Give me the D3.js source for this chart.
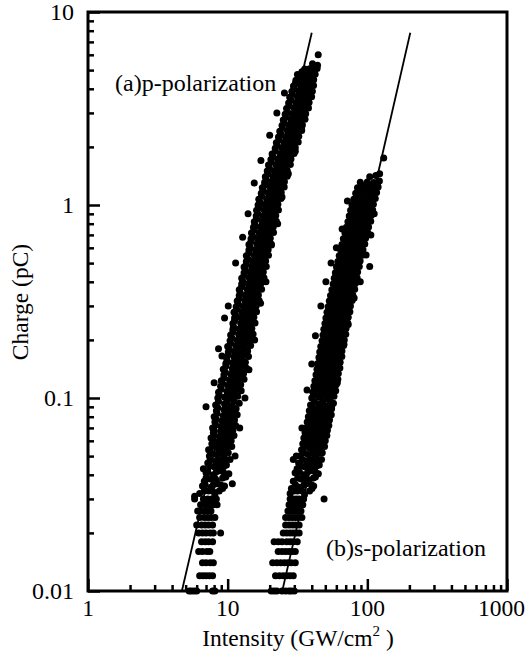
<!DOCTYPE html>
<html><head><meta charset="utf-8">
<script src="https://cdn.jsdelivr.net/npm/d3@7"></script>
<style>
html,body{margin:0;padding:0;background:#fff;}
svg text{font-family:"Liberation Serif","Times New Roman",serif;fill:#000;}
</style></head>
<body>
<svg id="chart" width="527" height="660"></svg>
<script>
// ---------------- data ----------------
const xMajorTicks = [1, 10, 100, 1000];
const xMajorLabels = ["1", "10", "100", "1000"];
const xMinorTicks = [2,3,4,5,6,7,8,9,20,30,40,50,60,70,80,90,200,300,400,500,600,700,800,900];
const yMajorTicks = [0.01, 0.1, 1, 10];
const yMajorLabels = ["0.01", "0.1", "1", "10"];
const yMinorTicks = [0.02,0.03,0.04,0.05,0.06,0.07,0.08,0.09,0.2,0.3,0.4,0.5,0.6,0.7,0.8,0.9,2,3,4,5,6,7,8,9];

// fitted power-law lines (endpoints)
const fitP = [[4.7, 0.01], [40, 7.8]];
const fitS = [[24.6, 0.01], [203, 7.8]];

// (a) p-polarization: [intensity, charge]
const pPol = [
[5.3,0.01],[5.5,0.01],[5.75,0.01],[6.0,0.01],[7.8,0.01],[8.1,0.01],
[6.3,0.012],[6.65,0.012],[7.0,0.012],[7.4,0.012],[7.8,0.012],
[6.6,0.014],[7.0,0.014],[7.5,0.014],[7.9,0.014],
[6.2,0.016],[6.6,0.016],[7.1,0.016],[7.45,0.016],
[6.5,0.018],[6.9,0.018],[7.3,0.018],[7.8,0.018],
[6.2,0.02],[6.6,0.02],[7.0,0.02],[7.5,0.02],[7.9,0.02],[8.9,0.02],
[6.0,0.022],[6.5,0.022],[6.9,0.022],[7.3,0.022],[7.8,0.022],
[6.3,0.024],[6.8,0.024],[7.2,0.024],[7.6,0.024],[8.1,0.024],
[6.1,0.026],[6.6,0.026],[7.1,0.026],[7.6,0.026],
[6.4,0.028],[6.9,0.028],[7.4,0.028],[7.9,0.028],[8.4,0.028],
[5.8,0.03],[6.7,0.03],[7.2,0.03],[7.7,0.03],[8.3,0.03],
[6.3,0.032],[7.3,0.033],[8.1,0.0315],[9.2,0.034],
[6.6,0.035],[7.6,0.0345],[8.4,0.036],[9.5,0.035],
[6.8,0.037],[7.5,0.038],[8.3,0.0375],[9.7,0.039],
[7.0,0.041],[7.9,0.040],[8.7,0.042],[10.2,0.0405],
[6.7,0.043],[8.0,0.044],[8.9,0.0435],[9.8,0.045],
[7.2,0.046],[8.2,0.047],[9.1,0.0465],[10.4,0.048],
[7.4,0.05],[8.3,0.051],[9.3,0.0495],[10.1,0.052],
[7.3,0.054],[8.5,0.055],[9.4,0.0535],[10.7,0.056],
[7.7,0.058],[8.6,0.059],[9.6,0.057],[10.6,0.06],
[7.6,0.062],[8.8,0.063],[9.7,0.0615],[11.1,0.064],
[7.9,0.066],[8.9,0.067],[9.9,0.0655],[10.9,0.068],
[7.8,0.07],[9.0,0.071],[10.0,0.0695],[11.4,0.072],
[8.1,0.075],[9.1,0.076],[10.1,0.0745],[11.2,0.077],
[8.0,0.08],[9.3,0.081],[10.3,0.079],[11.7,0.082],
[8.3,0.086],[9.4,0.087],[10.4,0.085],[11.5,0.088],
[8.2,0.092],[9.5,0.093],[10.6,0.091],[12.1,0.094],
[8.5,0.1],[9.5,0.101],[10.6,0.099],[11.8,0.102],
[8.6,0.107],[9.9,0.108],[10.9,0.106],[12.5,0.109],
[8.9,0.115],[10.0,0.116],[11.2,0.114],[12.4,0.117],
[9.0,0.123],[10.3,0.124],[11.4,0.122],[13.1,0.125],
[9.4,0.132],[10.5,0.133],[11.8,0.131],[13.0,0.134],
[9.3,0.141],[10.8,0.142],[11.9,0.14],[13.6,0.143],
[9.7,0.151],[10.8,0.152],[12.1,0.15],[13.4,0.153],
[9.8,0.162],[11.1,0.163],[12.3,0.161],[14.1,0.164],
[10.1,0.173],[11.2,0.174],[12.6,0.172],[13.9,0.175],
[10.0,0.185],[11.5,0.186],[12.7,0.184],[14.6,0.187],
[10.4,0.198],[11.7,0.199],[13.1,0.197],[14.4,0.2],
[10.5,0.212],[12.0,0.213],[13.2,0.211],[15.2,0.214],
[10.9,0.227],[12.1,0.228],[13.6,0.226],[14.9,0.229],
[10.9,0.243],[12.4,0.244],[13.7,0.242],[15.7,0.245],
[11.2,0.26],[12.4,0.261],[14.0,0.259],[15.4,0.262],
[11.1,0.278],[12.7,0.279],[14.1,0.277],[16.1,0.28],
[11.5,0.297],[12.9,0.298],[14.5,0.296],[16.0,0.3],
[11.7,0.318],[13.3,0.319],[14.7,0.317],[16.8,0.32],
[12.1,0.34],[13.4,0.341],[15.1,0.339],[16.6,0.342],
[12.1,0.364],[13.8,0.365],[15.3,0.363],[17.5,0.366],
[12.6,0.39],[14.0,0.391],[15.7,0.389],[17.3,0.392],
[12.6,0.417],[14.3,0.418],[15.9,0.416],[18.2,0.42],
[13.1,0.446],[14.5,0.447],[16.3,0.445],[18.0,0.449],
[13.1,0.477],[14.9,0.478],[16.5,0.476],[18.9,0.48],
[13.6,0.51],[15.1,0.511],[16.9,0.509],[18.7,0.513],
[13.6,0.546],[15.5,0.547],[17.2,0.545],[19.6,0.549],
[14.2,0.584],[15.8,0.585],[17.7,0.583],[19.5,0.587],
[14.2,0.625],[16.2,0.626],[17.9,0.624],[20.5,0.628],
[14.7,0.669],[16.3,0.67],[18.3,0.668],[20.2,0.672],
[14.8,0.716],[16.8,0.717],[18.7,0.715],[21.3,0.72],
[15.3,0.766],[17.1,0.767],[19.2,0.765],[21.2,0.77],
[15.5,0.82],[17.6,0.821],[19.5,0.819],[22.3,0.824],
[16.0,0.877],[17.9,0.878],[20.0,0.876],[22.1,0.881],
[16.1,0.938],[18.3,0.94],[20.2,0.937],[23.1,0.942],
[16.5,1.0],[18.4,1.005],[20.7,0.998],[22.9,1.01],
[16.7,1.07],[19.0,1.075],[21.1,1.068],[24.1,1.08],
[17.4,1.15],[19.5,1.155],[21.8,1.148],[24.2,1.16],
[17.7,1.23],[20.1,1.235],[22.3,1.228],[25.4,1.24],
[18.4,1.31],[20.5,1.315],[23.0,1.308],[25.5,1.32],
[18.6,1.4],[21.1,1.405],[23.4,1.398],[26.7,1.41],
[19.2,1.5],[21.5,1.505],[24.1,1.497],[26.7,1.51],
[19.6,1.61],[22.2,1.615],[24.7,1.607],[28.1,1.62],
[20.4,1.72],[22.8,1.725],[25.5,1.717],[28.4,1.73],
[20.8,1.84],[23.7,1.845],[26.3,1.837],[29.9,1.85],
[21.9,1.97],[24.5,1.975],[27.4,1.967],[30.5,1.98],
[22.3,2.1],[25.3,2.11],[28.1,2.095],[32.0,2.12],
[23.1,2.25],[25.9,2.26],[29.0,2.245],[32.3,2.27],
[23.6,2.41],[26.8,2.42],[29.8,2.405],[33.9,2.43],
[24.5,2.58],[27.5,2.59],[30.7,2.575],[34.3,2.6],
[25.0,2.76],[28.3,2.77],[31.5,2.755],[35.8,2.78],
[25.8,2.95],[29.0,2.96],[32.4,2.945],[36.2,2.97],
[26.4,3.16],[29.9,3.17],[33.3,3.155],[37.9,3.18],
[27.3,3.38],[30.7,3.39],[34.3,3.375],[38.3,3.4],
[27.8,3.62],[31.6,3.63],[35.1,3.615],[39.9,3.64],
[28.8,3.87],[32.3,3.88],[36.1,3.865],[40.4,3.89],
[29.6,4.14],[33.2,4.15],[36.9,4.135],[41.2,4.16],
[30.8,4.43],[33.9,4.44],[37.9,4.425],[41.3,4.45],
[31.6,4.74],[34.9,4.75],[38.8,4.735],[42.3,4.76],
[35.6,5.07],[38.6,5.08],[41.2,5.0],[43.7,5.1],
[40.5,5.4],[44.0,5.3],[44.5,6.0],
[5.8,0.031],[10.8,0.036],[11.3,0.05],[12.2,0.07],[7.0,0.09],[13.3,0.1],[8.0,0.12],[14.2,0.14],
[8.6,0.18],[15.6,0.2],[9.5,0.26],[17.2,0.31],[10.1,0.3],[18.8,0.4],[11.4,0.5],[20.6,0.62],
[12.8,0.68],[22.8,0.8],[14.0,0.9],[24.5,1.1],[15.5,1.3],[27.2,1.45],[17.3,1.7],[30.5,1.9],
[20.0,2.3],[33.8,2.5],[22.5,3.0],[36.5,3.4],[25.5,3.8],[9.1,0.165]
];
// (a) extra rows: [charge, intensity, intensity, intensity]
const pRows = [
[0.033,6.8,7.8,8.7],[0.0355,6.9,7.9,8.9],[0.0385,7.0,8.1,9.2],[0.0415,7.2,8.3,9.3],
[0.0445,7.4,8.4,9.5],[0.048,7.5,8.6,9.7],[0.052,7.6,8.8,9.9],[0.056,7.8,8.9,10.1],
[0.060,7.9,9.1,10.2],[0.064,8.0,9.1,10.4],[0.068,8.0,9.3,10.4],[0.0725,8.2,9.4,10.6],
[0.0775,8.3,9.5,10.8],[0.083,8.4,9.7,10.9],[0.089,8.5,9.7,11.0],[0.096,8.6,9.9,11.1],
[0.1035,8.7,10.0,11.4],[0.111,9.0,10.3,11.6],[0.119,9.2,10.5,11.9],[0.1275,9.4,10.8,12.2],
[0.1365,9.6,11.0,12.4],[0.146,9.7,11.2,12.6],[0.1565,9.9,11.3,12.8],[0.1675,10.1,11.6,13.1],
[0.179,10.3,11.8,13.3],[0.1915,10.5,12.0,13.6],[0.205,10.7,12.3,13.9],[0.2195,10.9,12.5,14.1],
[0.235,11.0,12.7,14.4],[0.2515,11.2,12.9,14.6],[0.269,11.4,13.1,14.8],[0.2875,11.6,13.4,15.1],
[0.3075,11.9,13.6,15.4],[0.329,12.1,13.9,15.7],[0.352,12.3,14.2,16.0],[0.377,12.6,14.4,16.3],
[0.4035,12.8,14.8,16.7],[0.4315,13.1,15.0,17.0],[0.4615,13.4,15.4,17.3],[0.4935,13.6,15.7,17.7],
[0.528,13.9,15.9,18.0],[0.565,14.2,16.3,18.4],[0.6045,14.5,16.7,18.8],[0.647,14.7,17.0,19.2],
[0.6925,15.1,17.3,19.5],[0.741,15.4,17.7,20.0],[0.793,15.7,18.1,20.5],[0.8485,16.1,18.5,20.9],
[0.9075,16.4,18.9,21.3],[0.969,16.7,19.2,21.6],[1.035,17.0,19.6,22.1],[1.11,17.5,20.1,22.7],
[1.19,18.0,20.7,23.3],[1.27,18.4,21.2,24.0],[1.355,18.9,21.8,24.6],[1.45,19.4,22.3,25.1],
[1.555,19.9,22.9,25.8],[1.665,20.5,23.6,26.6],[1.78,21.1,24.3,27.5],[1.905,21.9,25.2,28.5],
[2.035,22.7,26.1,29.4],[2.175,23.3,26.8,30.3],[2.33,24.0,27.6,31.2],[2.495,24.7,28.4,32.1],
[2.67,25.4,29.2,33.0],[2.855,26.1,30.0,33.9],[3.055,26.8,30.9,34.9],[3.27,27.6,31.8,35.9],
[3.5,28.4,32.6,36.8],[3.745,29.1,33.5,37.8],[4.005,29.8,34.3,38.8],[4.285,30.6,35.2,39.7],
[4.585,32.5,36.1,40.2],[4.9,34.0,36.9,41.5]
];

// (b) s-polarization: [intensity, charge]
const sPol = [
[20.5,0.01],[21.5,0.01],[22.5,0.01],[24.5,0.01],[26.0,0.01],[27.5,0.01],[28.5,0.01],[30.0,0.01],
[22.0,0.012],[23.5,0.012],[25.0,0.012],[26.5,0.012],[28.0,0.012],[29.5,0.012],
[21.0,0.014],[22.5,0.014],[24.0,0.014],[25.5,0.014],[27.0,0.014],[28.5,0.014],[30.5,0.014],
[23.0,0.016],[24.5,0.016],[26.0,0.016],[27.5,0.016],[29.0,0.016],[30.5,0.016],
[21.5,0.018],[23.0,0.018],[24.5,0.018],[26.5,0.018],[28.0,0.018],[29.5,0.018],[31.5,0.018],
[25.0,0.02],[26.5,0.02],[28.0,0.02],[29.5,0.02],[31.0,0.02],[32.5,0.02],
[26.0,0.022],[27.5,0.022],[29.0,0.022],[30.5,0.022],[32.5,0.022],
[26.0,0.024],[27.5,0.024],[29.0,0.024],[30.5,0.024],[32.0,0.024],[34.0,0.024],
[27.0,0.026],[28.5,0.026],[30.0,0.026],[31.5,0.026],[33.5,0.026],
[27.5,0.028],[29.0,0.028],[30.5,0.028],[32.0,0.028],[34.5,0.028],
[28.0,0.03],[29.5,0.03],[31.0,0.03],[32.5,0.03],[35.0,0.03],[49.0,0.03],
[28.0,0.032],[31.6,0.033],[35.5,0.0315],[40.2,0.034],
[28.6,0.034],[32.6,0.0345],[36.5,0.036],[41.3,0.035],
[29.5,0.037],[33.5,0.038],[38.0,0.0375],[42.5,0.039],
[30.4,0.041],[35.0,0.040],[39.1,0.042],[44.6,0.0405],
[31.4,0.043],[35.6,0.044],[40.4,0.0435],[45.3,0.045],
[32.2,0.046],[36.8,0.047],[41.2,0.0465],[47.0,0.048],
[33.0,0.05],[37.5,0.051],[42.5,0.0495],[47.6,0.052],
[33.8,0.054],[38.6,0.055],[43.3,0.0535],[49.4,0.056],
[34.5,0.058],[39.2,0.059],[44.4,0.057],[50.0,0.06],
[35.1,0.062],[40.1,0.063],[45.0,0.0615],[51.3,0.064],
[35.8,0.066],[40.7,0.067],[46.1,0.0655],[51.8,0.068],
[36.3,0.07],[41.5,0.071],[46.5,0.0695],[53.0,0.072],
[37.1,0.075],[42.2,0.076],[47.8,0.0745],[53.6,0.077],
[37.8,0.08],[43.2,0.081],[48.4,0.079],[55.2,0.082],
[38.4,0.086],[43.7,0.087],[49.5,0.085],[55.5,0.088],
[39.2,0.092],[44.8,0.093],[50.2,0.091],[57.2,0.094],
[40.0,0.1],[45.4,0.101],[51.5,0.099],[57.7,0.102],
[40.7,0.107],[46.5,0.108],[52.1,0.106],[59.4,0.109],
[41.4,0.115],[47.1,0.116],[53.4,0.114],[59.8,0.117],
[42.1,0.123],[48.1,0.124],[54.0,0.122],[61.5,0.125],
[42.9,0.132],[48.8,0.133],[55.3,0.131],[62.0,0.134],
[43.6,0.141],[49.8,0.142],[55.8,0.14],[63.6,0.143],
[44.2,0.151],[50.3,0.152],[57.0,0.15],[63.9,0.153],
[45.0,0.162],[51.4,0.163],[57.6,0.161],[65.7,0.164],
[45.6,0.173],[51.9,0.174],[58.8,0.172],[65.8,0.175],
[46.4,0.185],[53.0,0.186],[59.4,0.184],[67.7,0.187],
[47.4,0.198],[53.9,0.199],[61.1,0.197],[68.4,0.2],
[48.1,0.212],[54.9,0.213],[61.5,0.211],[70.1,0.214],
[48.8,0.227],[55.5,0.228],[62.9,0.226],[70.4,0.229],
[49.7,0.243],[56.7,0.244],[63.5,0.242],[72.4,0.245],
[50.5,0.26],[57.5,0.261],[65.2,0.259],[73.0,0.262],
[51.4,0.278],[58.7,0.279],[65.8,0.277],[75.0,0.28],
[52.4,0.297],[59.6,0.298],[67.6,0.296],[75.7,0.3],
[53.4,0.318],[61.0,0.319],[68.3,0.317],[77.9,0.32],
[54.5,0.34],[62.0,0.341],[70.3,0.339],[78.7,0.342],
[55.7,0.364],[63.6,0.365],[71.2,0.363],[81.2,0.366],
[56.9,0.39],[64.7,0.391],[73.3,0.389],[82.1,0.392],
[57.9,0.417],[66.2,0.418],[74.1,0.416],[84.5,0.42],
[59.0,0.446],[67.1,0.447],[76.1,0.445],[85.2,0.449],
[60.1,0.477],[68.6,0.478],[76.8,0.476],[87.6,0.48],
[61.5,0.51],[70.0,0.511],[79.3,0.509],[88.8,0.513],
[62.9,0.546],[71.8,0.547],[80.4,0.545],[91.7,0.549],
[64.4,0.584],[73.3,0.585],[83.1,0.583],[93.1,0.587],
[65.8,0.625],[75.1,0.626],[84.1,0.624],[95.9,0.628],
[67.3,0.669],[76.7,0.67],[86.8,0.668],[97.2,0.672],
[69.1,0.716],[78.7,0.717],[88.2,0.715],[100.6,0.72],
[70.8,0.766],[80.6,0.767],[91.3,0.765],[102.1,0.77],
[72.6,0.82],[82.8,0.821],[92.7,0.819],[105.8,0.824],
[74.2,0.877],[84.6,0.878],[95.9,0.876],[106.5,0.881],
[75.9,0.938],[86.5,0.94],[97.5,0.937],[109.2,0.942],
[77.6,1.0],[88.3,1.005],[99.6,0.998],[110.5,1.01],
[80.0,1.07],[91.2,1.075],[102.3,1.068],[114.0,1.08],
[82.5,1.15],[94.0,1.155],[105.2,1.148],[116.5,1.16],
[85.0,1.23],[96.8,1.235],[108.5,1.228],[119.5,1.24],
[89.0,1.31],[100.0,1.315],[111.5,1.308],[122.0,1.33],
[104.0,1.4],[115.0,1.42],[122.5,1.45],[131.0,1.75],
[29.5,0.048],[31.0,0.05],[34.0,0.07],[55.5,0.09],[37.0,0.11],[61.0,0.12],[40.0,0.15],[68.0,0.19],
[42.5,0.21],[73.0,0.24],[46.5,0.3],[80.5,0.33],[50.5,0.4],[89.0,0.4],[55.0,0.5],[98.0,0.55],
[60.0,0.6],[104.0,0.48],[66.0,0.75],[106.0,0.7],[72.0,1.05],[112.0,0.9]
];
// (b) extra rows: [charge, intensity, intensity, intensity]
const sRows = [
[0.033,29.8,34.2,38.6],[0.0355,30.6,35.2,39.8],[0.0385,31.7,36.4,41.1],[0.0415,32.6,37.5,42.4],
[0.0445,33.5,38.5,43.5],[0.048,34.4,39.5,44.6],[0.052,35.2,40.5,45.8],[0.056,36.0,41.4,46.8],
[0.060,36.7,42.2,47.7],[0.064,37.4,43.0,48.6],[0.068,38.0,43.7,49.4],[0.0725,38.7,44.5,50.3],
[0.0775,39.5,45.4,51.3],[0.083,40.2,46.2,52.2],[0.089,40.9,47.0,53.1],[0.096,41.8,48.0,54.2],
[0.1035,42.5,48.9,55.3],[0.111,43.2,49.7,56.2],[0.119,44.0,50.6,57.2],[0.1275,44.8,51.5,58.2],
[0.1365,45.6,52.4,59.2],[0.146,46.3,53.2,60.1],[0.1565,47.0,54.0,61.0],[0.1675,47.8,54.9,62.0],
[0.179,48.5,55.8,63.1],[0.1915,49.4,56.8,64.2],[0.205,50.3,57.8,65.3],[0.2195,51.1,58.7,66.3],
[0.235,51.9,59.7,67.5],[0.2515,52.8,60.7,68.6],[0.269,53.7,61.7,69.7],[0.2875,54.7,62.9,71.1],
[0.3075,55.8,64.1,72.4],[0.329,56.8,65.3,73.8],[0.352,58.0,66.7,75.4],[0.377,59.3,68.2,77.1],
[0.4035,60.5,69.5,78.5],[0.4315,61.6,70.8,80.0],[0.4615,62.8,72.2,81.6],[0.4935,64.1,73.7,83.3],
[0.528,65.5,75.3,85.1],[0.565,67.1,77.1,87.1],[0.6045,68.6,78.9,89.2],[0.647,70.2,80.7,91.2],
[0.6925,71.9,82.6,93.3],[0.741,73.7,84.7,95.7],[0.793,75.6,86.9,98.2],[0.8485,77.4,89.0,100.6],
[0.9075,79.2,91.0,102.8],[0.969,80.9,93.0,105.1],[1.035,83.1,95.5,107.9],[1.11,85.7,98.5,111.3],
[1.19,88.3,101.5,114.7],[1.27,90.9,104.5,118.1]
];

// ---------------- drawing ----------------
const W = 527, L = 88, R = 507, T = 12, B = 591;
const svg = d3.select("#chart");
const x = d3.scaleLog().domain([1, 1000]).range([L, R]);
const y = d3.scaleLog().domain([0.01, 10]).range([B, T]);

const rowsToPoints = rows => rows.flatMap(r => r.slice(1).map(v => [v, r[0]]));
const pAll = pPol.concat(rowsToPoints(pRows));
const sAll = sPol.concat(rowsToPoints(sRows));

function tickAxis(axis, vals, size, tr) {
  const g = svg.append("g").attr("transform", tr)
    .call(axis.tickValues(vals).tickSize(size).tickFormat(""));
  g.select(".domain").remove();
  g.selectAll(".tick line").attr("stroke", "#000").attr("stroke-width", 2.5);
}
tickAxis(d3.axisBottom(x), xMajorTicks, -12, `translate(0,${B})`);
tickAxis(d3.axisBottom(x), xMinorTicks, -6, `translate(0,${B})`);
tickAxis(d3.axisLeft(y), yMajorTicks, -12, `translate(${L},0)`);
tickAxis(d3.axisLeft(y), yMinorTicks, -6, `translate(${L},0)`);

svg.append("rect").attr("x", L).attr("y", T).attr("width", R - L).attr("height", B - T)
  .attr("fill", "none").attr("stroke", "#000").attr("stroke-width", 3);

// tick labels
svg.append("g").selectAll("text").data(xMajorTicks).join("text")
  .attr("x", d => x(d)).attr("y", B + 25).attr("text-anchor", "middle")
  .attr("font-size", 23.5).text((d, i) => xMajorLabels[i])
  .each(function (d) {
    const w = this.getComputedTextLength();
    d3.select(this).attr("x", Math.min(x(d), W - w / 2 - 2));
  });
svg.append("g").selectAll("text").data(yMajorTicks).join("text")
  .attr("x", L - 14).attr("y", d => y(d)).attr("dy", "0.35em").attr("text-anchor", "end")
  .attr("font-size", 24).text((d, i) => yMajorLabels[i]);

// axis titles
const xt = svg.append("text").attr("x", 298).attr("y", 646).attr("text-anchor", "middle").attr("font-size", 23.5);
xt.append("tspan").text("Intensity (GW/cm");
xt.append("tspan").attr("dy", -10).attr("font-size", 15).text("2");
xt.append("tspan").attr("dy", 10).text(" )");
svg.append("text").attr("transform", "translate(28,302) rotate(-90)")
  .attr("text-anchor", "middle").attr("font-size", 23.5).text("Charge (pC)");

// scatter points
const plot = svg.append("g");
plot.selectAll("circle.p").data(pAll).join("circle").attr("class", "p")
  .attr("cx", d => x(d[0])).attr("cy", d => y(d[1])).attr("r", 3.5).attr("fill", "#000");
plot.selectAll("circle.s").data(sAll).join("circle").attr("class", "s")
  .attr("cx", d => x(d[0])).attr("cy", d => y(d[1])).attr("r", 3.5).attr("fill", "#000");

// fit lines
const line = d3.line().x(d => x(d[0])).y(d => y(d[1]));
[fitP, fitS].forEach(f => svg.append("path").attr("d", line(f))
  .attr("fill", "none").attr("stroke", "#000").attr("stroke-width", 1.8));

// annotations
svg.append("text").attr("x", 115).attr("y", 91).attr("font-size", 24).text("(a)p-polarization");
svg.append("text").attr("x", 326).attr("y", 556).attr("font-size", 24).text("(b)s-polarization");
</script>
</body></html>
